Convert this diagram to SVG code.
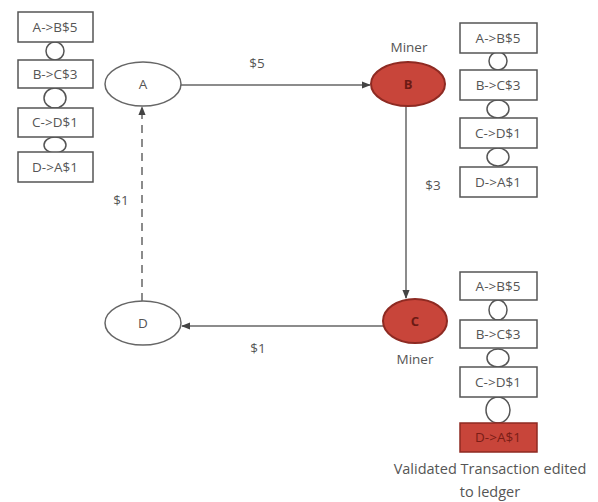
<svg xmlns="http://www.w3.org/2000/svg" width="598" height="502" viewBox="0 0 598 502">
<defs>
<style>
.bx{fill:#fff;stroke:#555;stroke-width:1.5}
.lk{fill:#fff;stroke:#555;stroke-width:1.5}
.t{font-family:"Open Sans","Liberation Sans",sans-serif;font-size:13.5px;fill:#555;text-anchor:middle;dominant-baseline:central}
.wn{fill:#fff;stroke:#666;stroke-width:1.5}
.rn{fill:#c8453a;stroke:#8e2a22;stroke-width:2}
.ln{fill:none;stroke:#666;stroke-width:1.5}
.rt{font-family:"Open Sans","Liberation Sans",sans-serif;font-size:13px;fill:#6b1a14;text-anchor:middle;dominant-baseline:central;font-weight:bold}
</style>
<marker id="ar" viewBox="0 0 10 10" refX="9" refY="5" markerWidth="6" markerHeight="6" orient="auto">
<path d="M0,1 L10,5 L0,9 z" fill="#444"/>
</marker>
</defs>
<rect width="598" height="502" fill="#fff"/>

<g id="ledger-left">
<ellipse class="lk" cx="55" cy="51" rx="9" ry="9"/>
<ellipse class="lk" cx="55" cy="98" rx="11" ry="10"/>
<ellipse class="lk" cx="55" cy="145" rx="11" ry="8"/>
<rect class="bx" x="18" y="12" width="75" height="30"/>
<rect class="bx" x="18" y="60" width="75" height="28"/>
<rect class="bx" x="18" y="108" width="75" height="29"/>
<rect class="bx" x="18" y="152" width="75" height="30"/>
<text class="t" x="55" y="27">A-&gt;B$5</text>
<text class="t" x="55" y="74">B-&gt;C$3</text>
<text class="t" x="55" y="122">C-&gt;D$1</text>
<text class="t" x="55" y="167">D-&gt;A$1</text>
</g>

<g id="ledger-top-right">
<ellipse class="lk" cx="498" cy="61" rx="9" ry="9"/>
<ellipse class="lk" cx="498" cy="109" rx="11" ry="9"/>
<ellipse class="lk" cx="498" cy="157" rx="11" ry="9"/>
<rect class="bx" x="460" y="23" width="77" height="30"/>
<rect class="bx" x="460" y="70" width="77" height="30"/>
<rect class="bx" x="460" y="118" width="77" height="30"/>
<rect class="bx" x="460" y="167" width="77" height="30"/>
<text class="t" x="498" y="38">A-&gt;B$5</text>
<text class="t" x="498" y="85">B-&gt;C$3</text>
<text class="t" x="498" y="133">C-&gt;D$1</text>
<text class="t" x="498" y="182">D-&gt;A$1</text>
</g>

<g id="ledger-bottom-right">
<ellipse class="lk" cx="498" cy="310" rx="9" ry="10"/>
<ellipse class="lk" cx="498" cy="358" rx="11" ry="9"/>
<ellipse class="lk" cx="498" cy="410" rx="12" ry="13"/>
<rect class="bx" x="460" y="272" width="77" height="28"/>
<rect class="bx" x="460" y="320" width="77" height="28"/>
<rect class="bx" x="460" y="367" width="77" height="30"/>
<rect x="460" y="423" width="77" height="29" fill="#c8453a" stroke="#8e2a22" stroke-width="1.5"/>
<text class="t" x="498" y="286">A-&gt;B$5</text>
<text class="t" x="498" y="334">B-&gt;C$3</text>
<text class="t" x="498" y="382">C-&gt;D$1</text>
<text class="t" x="498" y="437" style="fill:#7a1d16">D-&gt;A$1</text>
<text class="t" x="490" y="468" style="font-size:14.5px">Validated Transaction edited</text>
<text class="t" x="490" y="491" style="font-size:14.5px">to ledger</text>
</g>

<g id="connectors">
<line class="ln" x1="181" y1="85" x2="370" y2="85" marker-end="url(#ar)"/>
<line class="ln" x1="406" y1="106" x2="406" y2="298" marker-end="url(#ar)"/>
<line class="ln" x1="383" y1="326" x2="182" y2="326" marker-end="url(#ar)"/>
<line class="ln" x1="142" y1="301" x2="142" y2="107" stroke-dasharray="8,6" marker-end="url(#ar)"/>
<text class="t" x="257" y="63">$5</text>
<text class="t" x="433" y="185">$3</text>
<text class="t" x="258" y="348">$1</text>
<text class="t" x="121" y="200">$1</text>
</g>

<g id="node-A">
<ellipse class="wn" cx="143" cy="84" rx="38" ry="22"/>
<text class="t" x="143" y="84">A</text>
</g>
<g id="node-B">
<ellipse class="rn" cx="408" cy="84" rx="37" ry="22"/>
<text class="rt" x="408" y="84">B</text>
<text class="t" x="409" y="47">Miner</text>
</g>
<g id="node-C">
<ellipse class="rn" cx="415" cy="321" rx="32" ry="22"/>
<text class="rt" x="415" y="321">C</text>
<text class="t" x="415" y="359">Miner</text>
</g>
<g id="node-D">
<ellipse class="wn" cx="143" cy="323" rx="38" ry="22"/>
<text class="t" x="143" y="323">D</text>
</g>
</svg>
